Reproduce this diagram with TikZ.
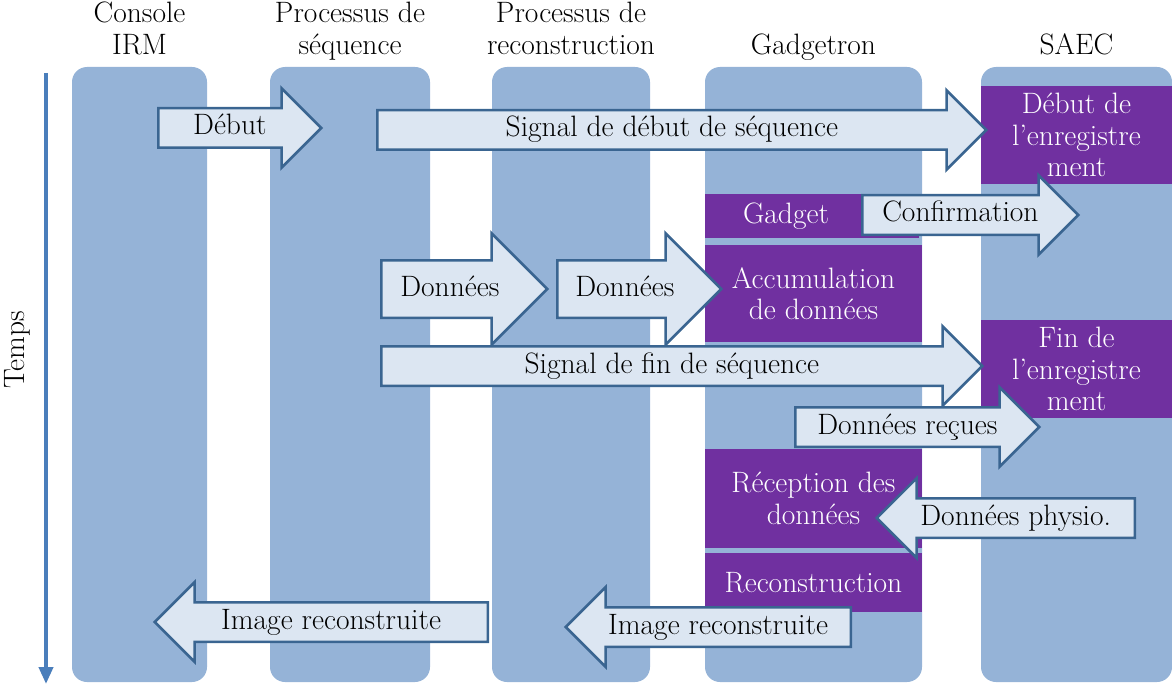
\documentclass[tikz,border=0pt]{standalone}
\usepackage{tikz}
\usetikzlibrary{shapes.arrows, arrows.meta, positioning}

\definecolor{lanecol}{HTML}{95B3D7}
\definecolor{taskcol}{HTML}{7030A0}
\definecolor{arrowfill}{HTML}{DCE6F2}
\definecolor{arrowedge}{HTML}{3A6591}
\definecolor{timecol}{HTML}{4A7EBB}

\newcommand{\diagfont}{\fontsize{29.5}{31.5}\selectfont}

\tikzset{
  lane/.style={rectangle, fill=lanecol, rounded corners=15pt, minimum height=615pt, inner sep=0pt},
  header/.style={align=center, font=\diagfont, inner sep=0pt},
  task/.style={rectangle, fill=taskcol, text=white, align=center, font=\diagfont, inner sep=0pt},
  flow/.style={single arrow, draw=arrowedge, fill=arrowfill, line width=2.5pt,
    single arrow tip angle=90, single arrow head extend=20pt,
    inner xsep=2pt, inner ysep=4.5pt, text height=21pt, text depth=7pt,
    font=\diagfont, anchor=tail},
  bigflow/.style={flow, inner ysep=13.5pt, single arrow head extend=27pt},
  backflow/.style={flow, shape border rotate=180},
}

\begin{document}
\begin{tikzpicture}[x=1pt, y=-1pt]
    \useasboundingbox (0,0) rectangle (1172,687);

    % Lanes
    \node[lane, minimum width=135pt] (console) at (139.5,374.5) {};
    \node[lane, minimum width=160pt] (sequence) at (350,374.5) {};
    \node[lane, minimum width=158pt] (recon) at (571,374.5) {};
    \node[lane, minimum width=217pt] (gadgetron) at (813.5,374.5) {};
    \node[lane, minimum width=191pt] (saec) at (1076.5,374.5) {};

    % Headers
    \node[header, above=3pt of console] (h1) {Console\\IRM\strut};
    \node[header, above=3pt of sequence] (h2) {Processus de\\séquence\strut};
    \node[header, above=3pt of recon] (h3) {Processus de\\reconstruction\strut};
    \node[header, above=3pt of gadgetron] (h4) {Gadgetron\strut};
    \node[header, above=3pt of saec] (h5) {SAEC\strut};

    % Steps in Gadgetron and SAEC
    \node[task, minimum width=191pt, minimum height=98pt] (startrec) at (1076.5,135) {Début de\\l'enregistre\\ment};
    \node[task, minimum height=44pt, text width=138pt, inner xsep=38pt, align=left] (gadget) at (812,216) {Gadget};
    \node[task, minimum width=217pt, minimum height=97pt] (accum) at (813.5,293.5) {Accumulation\\de données};
    \node[task, minimum width=191pt, minimum height=98pt] (endrec) at (1076.5,369) {Fin de\\l'enregistre\\ment};
    \node[task, minimum width=217pt, minimum height=99pt] (recept) at (813.5,498.5) {Réception des\\données};
    \node[task, minimum width=217pt, minimum height=59pt] (rebuild) at (813.5,582.5) {Reconstruction};

    % Messages
    \node[flow, minimum height=163pt] (start) at (157,128) {Début};
    \node[flow, minimum height=609pt] (sigstart) at (376,130) {Signal de début de séquence};
    \node[flow, minimum height=216pt] (confirm) at (861,215) {Confirmation};
    \node[bigflow, minimum height=166pt] (data1) at (380,289) {Données};
    \node[bigflow, minimum height=164pt] (data2) at (556,289) {Données};
    \node[flow, minimum height=601pt] (sigend) at (380,366) {Signal de fin de séquence};
    \node[flow, minimum height=244pt] (received) at (794,427) {Données reçues};
    \node[backflow, minimum height=258pt] (physio) at (1136,518) {Données physio.};
    \node[backflow, minimum height=285pt] (image2) at (852,627) {Image reconstruite};
    \node[backflow, minimum height=333pt] (image1) at (489,622) {Image reconstruite};

    % Time axis
    \coordinate (t0) at (46,73);
    \coordinate (t1) at (46,684);
    \draw[timecol, line width=4pt, -{Triangle[length=17pt, width=14pt]}] (t0) -- (t1);
    \node[font=\diagfont, rotate=90] (temps) at (17,350) {Temps};
\end{tikzpicture}
\end{document}
